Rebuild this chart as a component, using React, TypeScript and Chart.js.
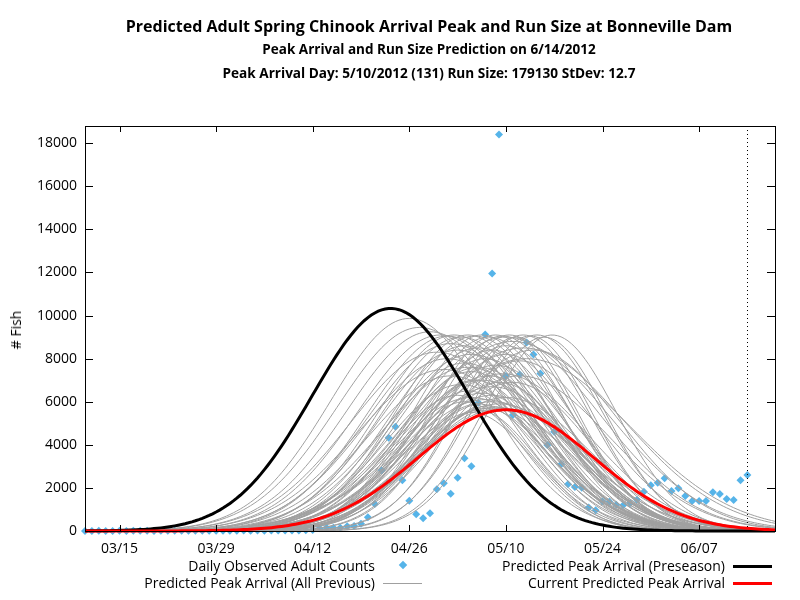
import React, { useEffect, useRef } from "react";
import { Chart, registerables } from "chart.js";

Chart.register(...registerables);

// day-of-year 2012 (leap year): 75 = 03/15, 131 = 05/10
const FIRST_DAY = 70;
const LAST_DAY = 170;
const PREDICTION_DAY = 166;

const xTickDays = [75, 89, 103, 117, 131, 145, 159];
const xTickLabels = ["03/15", "03/29", "04/12", "04/26", "05/10", "05/24", "06/07"];
const yTicks = [0, 2000, 4000, 6000, 8000, 10000, 12000, 14000, 16000, 18000];

// daily observed adult counts, first value = day 70
const firstObsDay = 70;
const observedCounts = [
  4, 2, 6, 3, 5, 8, 4, 7, 6, 9,
  5, 8, 10, 7, 12, 9, 11, 14, 10, 13,
  16, 12, 15, 18, 14, 20, 17, 22, 19, 24,
  21, 26, 30, 46, 125, 153, 150, 153, 218, 232,
  339, 636, 1253, 2816, 4328, 4838, 2352, 1406, 775, 589,
  821, 1934, 2213, 1730, 2473, 3373, 3002, 5952, 9125, 11955,
  18403, 7190, 5381, 7270, 8754, 8197, 7316, 3990, 4607, 3094,
  2166, 2041, 2010, 1090, 967, 1376, 1360, 1215, 1192, 1285,
  1450, 1823, 2119, 2241, 2443, 1856, 1979, 1624, 1392, 1392,
  1392, 1794, 1716, 1484, 1438, 2351, 2598,
];

// previous daily predictions: peak day, run size, stdev
const grayPeakDays = [
  117.0, 118.5, 120.0, 121.5, 122.5, 123.5, 124.5, 125.5, 126.5, 127.5,
  128.5, 129.5, 130.5, 131.5, 132.5, 133.5, 134.5, 135.5, 136.5, 137.7,
  121.0, 122.5, 124.0, 125.0, 126.0, 127.0, 128.0, 129.5, 131.0, 133.0,
  123.0, 124.5, 126.0, 127.5, 129.0, 130.5, 132.0, 125.5, 124.0, 125.0,
  126.0, 127.0, 128.0, 128.5, 129.0, 129.5, 130.0, 130.5, 127.0, 126.0,
  132.0, 133.5, 131.0, 134.0, 123.0, 125.0, 127.0, 129.0, 131.0, 126.5,
  128.5, 130.0, 127.5, 129.0, 131.0, 128.0, 125.5, 122.0, 133.0, 135.0,
];
const grayRunSizes = [
  284500, 284300, 278200, 273700, 260900, 250900, 259400, 239500, 249500, 228100,
  236900, 216700, 226900, 216700, 203000, 216700, 204200, 216700, 203000, 212100,
  260100, 240600, 242100, 215100, 246700, 219100, 210600, 212300, 215800, 227700,
  216600, 187500, 194800, 210600, 193100, 228700, 190300, 154800, 157900, 135400,
  178700, 140500, 183500, 152700, 188000, 158500, 177500, 178600, 119300, 124100,
  308800, 308900, 304600, 300800, 261700, 237100, 245000, 221100, 215600, 175500,
  207500, 181600, 168400, 181600, 186500, 135700, 238100, 235000, 234600, 263200,
];
const grayStdevs = [
  11.5, 12.0, 12.0, 12.0, 11.5, 11.0, 11.5, 10.5, 11.0, 10.0,
  10.5, 9.5, 10.0, 9.5, 9.0, 9.5, 9.0, 9.5, 9.0, 9.3,
  12.5, 12.0, 11.5, 11.0, 12.0, 11.5, 10.5, 11.0, 10.5, 11.5,
  12.0, 11.0, 10.5, 12.0, 11.5, 12.5, 11.0, 9.5, 10.0, 9.0,
  11.5, 9.5, 12.0, 10.5, 12.5, 11.0, 12.0, 12.5, 8.5, 9.0,
  14.0, 14.5, 13.5, 15.0, 12.0, 11.0, 11.5, 10.5, 10.0, 10.0,
  11.5, 10.5, 10.5, 11.5, 12.0, 9.5, 12.5, 12.5, 13.0, 12.5,
];

const preseason = { peak: 114.3, runSize: 295200, stdev: 11.4 };
const current = { peak: 131, runSize: 179130, stdev: 12.7 };

const FONT = "'Open Sans', 'DejaVu Sans', sans-serif";

function curve(peak: number, runSize: number, stdev: number) {
  const pts: { x: number; y: number }[] = [];
  for (let d = FIRST_DAY; d <= LAST_DAY; d += 0.5) {
    const z = (d - peak) / stdev;
    pts.push({ x: d, y: (runSize / (stdev * Math.sqrt(2 * Math.PI))) * Math.exp(-0.5 * z * z) });
  }
  return pts;
}

const framePlugin = {
  id: "frame",
  afterDatasetsDraw(chart: any) {
    const { ctx, chartArea: a, scales } = chart;
    ctx.save();
    ctx.strokeStyle = "#000";
    ctx.lineWidth = 1;
    // prediction date
    const px = Math.round(scales.x.getPixelForValue(PREDICTION_DAY)) + 0.5;
    ctx.setLineDash([1, 3]);
    ctx.beginPath();
    ctx.moveTo(px, a.top);
    ctx.lineTo(px, a.bottom);
    ctx.stroke();
    ctx.setLineDash([]);
    // border
    ctx.strokeRect(Math.round(a.left) + 0.5, Math.round(a.top) + 0.5, Math.round(a.width), Math.round(a.height));
    ctx.beginPath();
    xTickDays.forEach((d) => {
      const x = Math.round(scales.x.getPixelForValue(d)) + 0.5;
      ctx.moveTo(x, a.bottom);
      ctx.lineTo(x, a.bottom - 6);
      ctx.moveTo(x, a.top);
      ctx.lineTo(x, a.top + 6);
    });
    yTicks.forEach((v) => {
      const y = Math.round(scales.y.getPixelForValue(v)) + 0.5;
      ctx.moveTo(a.left, y);
      ctx.lineTo(a.left + 8, y);
      ctx.moveTo(a.right, y);
      ctx.lineTo(a.right - 8, y);
    });
    ctx.stroke();
    ctx.restore();
  },
};

const text = (extra: React.CSSProperties): React.CSSProperties => ({
  position: "absolute",
  fontFamily: FONT,
  color: "#000",
  whiteSpace: "nowrap",
  lineHeight: "20px",
  ...extra,
});

export default function App() {
  const canvasRef = useRef<HTMLCanvasElement>(null);
  const chartRef = useRef<Chart | null>(null);

  useEffect(() => {
    if (!canvasRef.current) return;
    if (chartRef.current) chartRef.current.destroy();

    const grayDatasets = grayPeakDays.map((p, i) => ({
      type: "line" as const,
      data: curve(p, grayRunSizes[i], grayStdevs[i]),
      borderColor: "#a0a0a0",
      borderWidth: 1,
      pointRadius: 0,
      tension: 0,
      order: 2,
      clip: false as const,
    }));

    chartRef.current = new Chart(canvasRef.current, {
      type: "scatter",
      data: {
        datasets: [
          {
            type: "line",
            data: curve(current.peak, current.runSize, current.stdev),
            borderColor: "#ff0000",
            borderWidth: 3,
            pointRadius: 0,
            order: 0,
            clip: false,
          },
          {
            type: "line",
            data: curve(preseason.peak, preseason.runSize, preseason.stdev),
            borderColor: "#000000",
            borderWidth: 3,
            pointRadius: 0,
            order: 1,
            clip: false,
          },
          ...grayDatasets,
          {
            type: "scatter",
            data: observedCounts.map((c, i) => ({ x: firstObsDay + i, y: c })),
            pointStyle: "rectRot",
            pointRadius: 4,
            pointBackgroundColor: "#56b4e9",
            pointBorderColor: "#56b4e9",
            pointBorderWidth: 0,
            order: 3,
            clip: false,
          },
        ],
      } as any,
      options: {
        animation: false,
        responsive: false,
        devicePixelRatio: 1,
        layout: { padding: { top: 126, right: 25, left: 0, bottom: 0 } },
        plugins: { legend: { display: false }, tooltip: { enabled: false } },
        scales: {
          x: {
            type: "linear",
            min: FIRST_DAY,
            max: LAST_DAY,
            grid: { display: false, drawTicks: false },
            border: { display: false },
            afterBuildTicks: (s: any) => {
              s.ticks = xTickDays.map((v) => ({ value: v }));
            },
            afterFit: (s: any) => {
              s.height = 69;
            },
            ticks: {
              autoSkip: false,
              maxRotation: 0,
              padding: 10,
              color: "#000",
              font: { family: FONT, size: 14 },
              callback: (v: any) => xTickLabels[xTickDays.indexOf(Number(v))] ?? "",
            },
          },
          y: {
            type: "linear",
            min: 0,
            max: 18800,
            grid: { display: false, drawTicks: false },
            border: { display: false },
            afterBuildTicks: (s: any) => {
              s.ticks = yTicks.map((v) => ({ value: v }));
            },
            afterFit: (s: any) => {
              s.width = 85;
            },
            ticks: {
              padding: 8,
              color: "#000",
              font: { family: FONT, size: 14 },
              callback: (v: any) => String(v),
            },
          },
        },
      },
      plugins: [framePlugin],
    });

    return () => {
      if (chartRef.current) {
        chartRef.current.destroy();
        chartRef.current = null;
      }
    };
  }, []);

  return (
    <div style={{ position: "absolute", left: 0, top: 0, width: 800, height: 600, background: "#fff", overflow: "hidden" }}>
      <canvas ref={canvasRef} width={800} height={600} style={{ position: "absolute", left: 0, top: 0, width: 800, height: 600 }} />
      <div style={text({ left: 0, width: 858, top: 16, textAlign: "center", fontSize: 16, fontWeight: 700 })}>
        Predicted Adult Spring Chinook Arrival Peak and Run Size at Bonneville Dam
      </div>
      <div style={text({ left: 0, width: 858, top: 39, textAlign: "center", fontSize: 13.5, fontWeight: 700 })}>
        Peak Arrival and Run Size Prediction on 6/14/2012
      </div>
      <div style={text({ left: 0, width: 858, top: 63, textAlign: "center", fontSize: 13.6, fontWeight: 700 })}>
        Peak Arrival Day: 5/10/2012 (131) Run Size: 179130 StDev: 12.7
      </div>
      <div style={text({ left: 16, top: 330, fontSize: 14, transform: "translate(-50%, -50%) rotate(-90deg)" })}># Fish</div>

      <div style={text({ right: 800 - 375, top: 556, fontSize: 14 })}>Daily Observed Adult Counts</div>
      <div style={{ position: "absolute", left: 400, top: 562, width: 6, height: 6, background: "#56b4e9", transform: "rotate(45deg)" }} />
      <div style={text({ right: 800 - 375, top: 573, fontSize: 14 })}>Predicted Peak Arrival (All Previous)</div>
      <div style={{ position: "absolute", left: 383, top: 583, width: 39, height: 1, background: "#a0a0a0" }} />

      <div style={text({ right: 800 - 725, top: 556, fontSize: 14 })}>Predicted Peak Arrival (Preseason)</div>
      <div style={{ position: "absolute", left: 733, top: 565, width: 39, height: 3, background: "#000" }} />
      <div style={text({ right: 800 - 725, top: 573, fontSize: 14 })}>Current Predicted Peak Arrival</div>
      <div style={{ position: "absolute", left: 733, top: 582, width: 39, height: 3, background: "#ff0000" }} />
    </div>
  );
}
